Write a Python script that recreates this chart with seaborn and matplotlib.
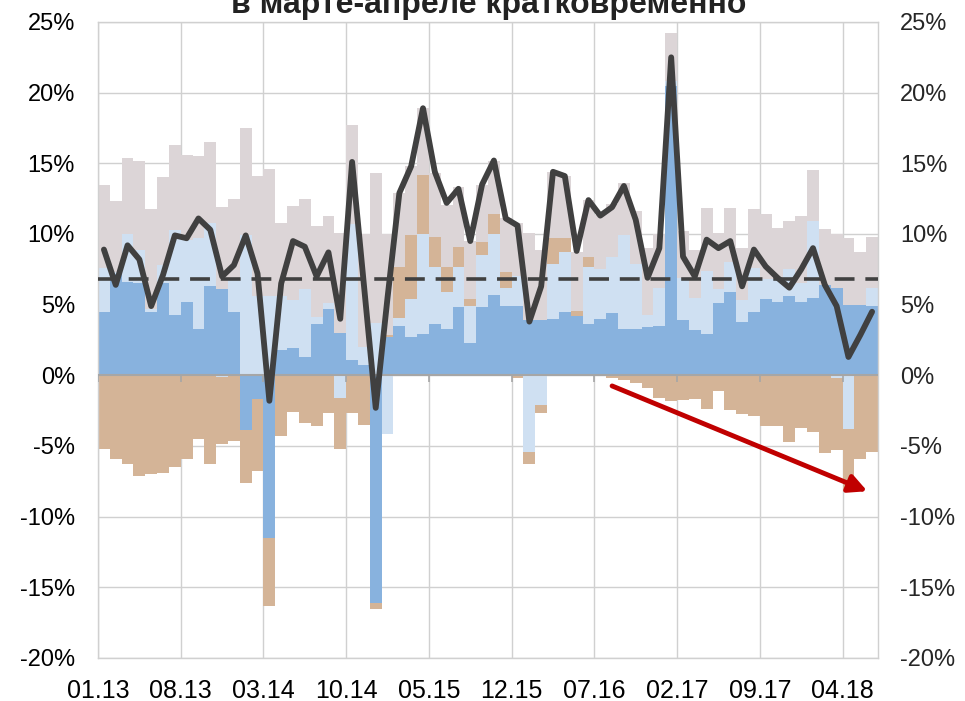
import numpy as np
import seaborn as sns
import matplotlib.pyplot as plt

# monthly contributions, % (01.13 .. 06.18)
dark_blue = [4.5, 7.2, 6.6, 6.5, 4.5, 6.5, 4.3, 5.2, 3.3, 6.3, 6.1, 4.5, -3.9, -1.7, -11.5, 1.8,
             1.9, 1.3, 3.6, 4.7, 3.0, 1.1, 0.7, -16.1, 2.7, 3.5, 2.7, 2.9, 3.6, 3.3, 4.8, 2.3,
             4.8, 5.7, 4.9, 4.9, 3.9, 3.9, 4.0, 4.5, 4.2, 3.6, 4.0, 4.4, 3.3, 3.3, 3.4, 3.5,
             20.5, 3.9, 3.2, 2.9, 5.1, 5.9, 3.8, 4.5, 5.4, 5.2, 5.6, 5.2, 5.5, 6.4, 6.2, 5.0,
             5.0, 4.9]
light_blue = [3.1, 0.1, 3.4, 2.4, 0.2, 1.3, 6.0, 4.4, 6.4, 4.5, -0.15, 2.3, 9.9, 5.6, 5.6, 3.8,
              3.4, 4.8, 0.55, 0.4, -1.6, 9.6, 1.3, 3.7, -4.15, 0.55, 2.7, 7.1, 4.1, 2.6, 2.9, 2.6,
              3.7, 4.3, 1.3, 2.1, -5.4, -2.1, 3.9, 4.2, 0.0, 4.1, 3.5, 4.0, 6.6, 4.6, 0.9, 2.7,
              0.3, 3.0, 2.25, 4.5, 1.0, 2.1, 1.5, 3.1, 1.4, 1.65, 1.9, 1.3, 5.4, 0.0, -0.2, -3.8,
              0.0, 1.3]
tan = [-5.2, -5.9, -6.3, -7.1, -7.0, -6.9, -6.5, -5.9, -4.5, -6.3, -4.7, -4.65, -3.7, -5.1, -4.8, -4.3,
       -2.6, -3.4, -3.55, -2.7, -3.6, -2.65, -3.5, -0.45, 0.12, 3.6, 4.5, 4.2, 2.1, 1.8, 1.4, 0.5,
       0.95, 1.4, 1.1, -0.2, -0.85, -0.55, 1.85, 1.0, 0.35, 0.65, 0.0, -0.2, -0.3, -0.55, -0.9, -1.6,
       -1.85, -1.75, -1.7, -2.35, -1.1, -2.45, -2.75, -2.9, -3.6, -3.6, -4.7, -3.75, -4.0, -5.5, -5.05, -4.4,
       -5.95, -5.45]
grey = [5.9, 5.0, 5.4, 6.3, 7.1, 6.2, 6.0, 6.0, 5.8, 5.7, 5.8, 5.7, 7.6, 8.5, 9.0, 5.2,
        6.7, 6.4, 6.45, 6.2, 7.05, 7.0, 8.0, 10.6, 7.2, 5.25, 4.9, 4.7, 4.5, 4.35, 4.25, 4.1,
        4.05, 3.8, 3.8, 3.75, 6.15, 5.0, 4.65, 4.4, 4.2, 4.05, 3.85, 3.7, 3.7, 3.7, 4.7, 3.8,
        3.4, 3.3, 3.4, 4.45, 4.0, 3.85, 3.7, 4.15, 4.65, 3.6, 3.4, 4.75, 3.6, 3.95, 3.8, 4.7,
        3.7, 3.6]
total = [8.9, 6.4, 9.2, 8.2, 4.9, 7.1, 9.9, 9.7, 11.1, 10.3, 7.0, 7.8, 9.9, 7.2, -1.8, 6.5,
         9.5, 9.1, 7.0, 8.7, 4.0, 15.1, 6.4, -2.3, 5.5, 12.9, 14.8, 18.9, 14.4, 12.2, 13.2, 9.5,
         13.5, 15.2, 11.1, 10.6, 3.8, 6.3, 14.4, 14.1, 8.8, 12.4, 11.3, 11.9, 13.4, 11.0, 6.9, 9.0,
         22.5, 8.4, 7.0, 9.6, 9.0, 9.5, 6.3, 8.9, 7.7, 6.9, 6.2, 7.5, 9.0, 6.4, 4.9, 1.3,
         2.85, 4.5]
average = 6.8
tick_labels = ["01.13", "08.13", "03.14", "10.14", "05.15", "12.15",
               "07.16", "02.17", "09.17", "04.18"]
title = "в марте-апреле кратковременно"

colors = ["#88B2DE", "#CFE0F2", "#D4B497", "#DCD5D7"]
grid_c = "#D0D0D0"

sns.set_theme(style="white")
plt.rcParams["font.family"] = ["Liberation Sans", "DejaVu Sans"]

fig = plt.figure(figsize=(9.65, 7.01), dpi=100)
ax = fig.add_axes([98 / 965, 1 - 658 / 701, 780 / 965, 636 / 701])

n = len(total)
x = np.arange(n) + 0.5
pos_base = np.zeros(n)
neg_base = np.zeros(n)
for vals, c in zip([dark_blue, light_blue, tan, grey], colors):
    v = np.array(vals)
    pos = np.where(v > 0, v, 0)
    neg = np.where(v < 0, v, 0)
    ax.bar(x, pos, width=1.0, bottom=pos_base, color=c, linewidth=0, zorder=2)
    ax.bar(x, neg, width=1.0, bottom=neg_base, color=c, linewidth=0, zorder=2)
    pos_base += pos
    neg_base += neg

ax.axhline(0, color="#A6A6A6", lw=1.5, zorder=3)
ticks = np.arange(0, n, 7)
ax.vlines(ticks, -0.45, 0, color="#A6A6A6", lw=1.2, zorder=3)
ax.axhline(average, color="#404040", lw=2.6, dashes=(5.5, 3), zorder=4)
sns.lineplot(x=x, y=total, ax=ax, color="#404040", lw=4.2, zorder=5)

ax.annotate("", xy=(65.1, -8.2), xytext=(43.5, -0.75),
            arrowprops=dict(arrowstyle="-|>,head_length=0.9,head_width=0.45",
                            color="#C00000", lw=3.5, shrinkA=0, shrinkB=0), zorder=6)

ax.set_xlim(0, n)
ax.set_ylim(-20, 25)
ax.set_xticks(ticks)
ax.set_xticklabels(tick_labels)
yt = np.arange(-20, 26, 5)
ax.set_yticks(yt)
ax.set_yticklabels([f"{v}%" for v in yt])
ax.grid(True, color=grid_c, lw=1.0, zorder=0)
ax.set_axisbelow(True)
for s in ax.spines.values():
    s.set_color(grid_c)
    s.set_linewidth(1.0)
ax.tick_params(axis="both", length=0, colors="#000000")
ax.tick_params(axis="y", pad=16.5, labelsize=17)
ax.tick_params(axis="x", pad=15, labelsize=18)

ax2 = ax.twinx()
ax2.set_ylim(ax.get_ylim())
ax2.set_yticks(yt)
ax2.set_yticklabels([f"{v}%" for v in yt])
ax2.tick_params(axis="y", length=0, labelsize=17, pad=16)
for s in ax2.spines.values():
    s.set_visible(False)
ax2.grid(False)

fig.text(0.506, 1 - 13 / 701, title, ha="center", va="baseline",
         fontsize=23, fontweight="bold", color="#222222")

fig.savefig("out.png", dpi=100)
